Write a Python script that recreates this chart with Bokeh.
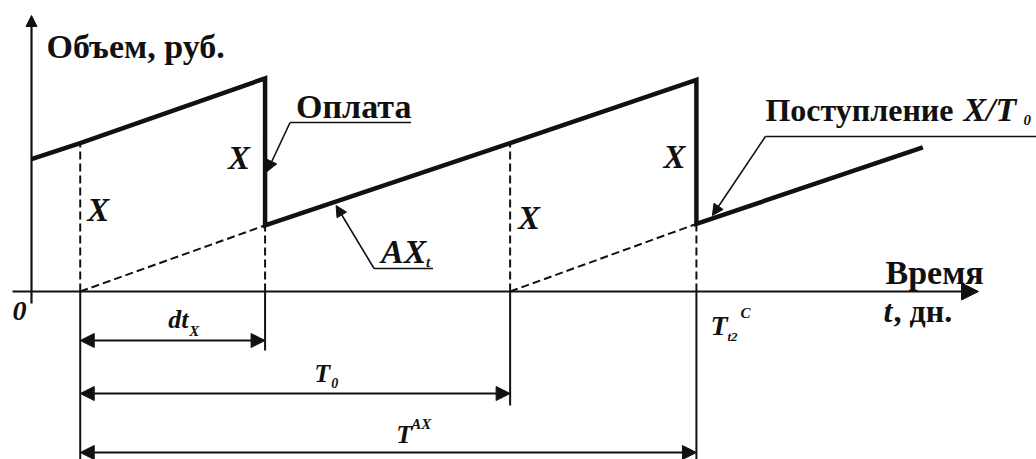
from bokeh.plotting import figure
from bokeh.models import Range1d, Arrow, NormalHead, Label
from bokeh.embed import file_html
from bokeh.resources import INLINE

# ---------------- data (days, rubles in abstract units) ----------------
t_start = 3.4     # start of first inflow cycle
t_pay1 = 16.3     # first payment (start + dt_X)
t_T0 = 33.4       # end of period T0
t_pay2 = 46.4     # second payment (start + T^AX)
t_end = 62.2

# solid saw-tooth: balance of accounts payable AX_t
saw_t = [0.0, 3.4, 16.3, 16.3, 33.4, 46.4, 46.4, 62.2]
saw_v = [90, 101, 145, 45, 101, 144, 46, 98]

# dashed inflow lines X/T0
inflow1_t = [3.4, 16.3]
inflow1_v = [0, 45]
inflow2_t = [33.4, 46.4]
inflow2_v = [0, 46]

# dashed vertical guides
guide_t = [3.4, 16.3, 33.4, 46.4]
guide_top = [101, 45, 101, 46]

# dimension intervals
dim_names = ["dt", "T0", "TAX"]
dim_from = [3.4, 3.4, 3.4]
dim_to = [16.3, 33.4, 46.4]

# ---------------- layout ----------------
W, H = 1036, 459
SX = 14.33   # px per day
SY = 1.47    # px per unit
OX, OY = 31, 291   # origin position inside the canvas (px)

def off(t, v, dx=0.0, dy=0.0):
    """data anchor + screen offset (dx right, dy down) in px"""
    return t + dx / SX, v - dy / SY

p = figure(width=W, height=H, output_backend="svg", toolbar_location=None,
           x_range=Range1d(-OX / SX, (W - OX) / SX),
           y_range=Range1d(-(H - OY) / SY, OY / SY),
           min_border=0, outline_line_color=None, background_fill_color="white",
           border_fill_color="white")
p.xaxis.visible = False
p.yaxis.visible = False
p.grid.visible = False

INK = "#111111"

# axes with arrows
x_ax0 = off(0, 0, -19)[0]
x_ax1 = off(0, 0, 947)[0]
y_ax0 = off(0, 0, 0, 12)[1]
y_ax1 = off(0, 0, 0, -276)[1]
p.add_layout(Arrow(x_start=x_ax0, y_start=0, x_end=x_ax1, y_end=0, line_width=2.2,
                   line_color=INK,
                   end=NormalHead(size=17, fill_color=INK, line_color=INK, line_width=1)))
p.add_layout(Arrow(x_start=0, y_start=y_ax0, x_end=0, y_end=y_ax1, line_width=2.2,
                   line_color=INK,
                   end=NormalHead(size=11, fill_color=INK, line_color=INK, line_width=1)))

# dashed guides and inflow lines
for t, top in zip(guide_t, guide_top):
    p.line([t, t], [0, top], line_color=INK, line_width=2, line_dash="8 4")
p.line(inflow1_t, inflow1_v, line_color=INK, line_width=2, line_dash="8 4")
p.line(inflow2_t, inflow2_v, line_color=INK, line_width=2, line_dash="8 4")

# saw-tooth
p.line(saw_t, saw_v, line_color=INK, line_width=4.5, line_join="miter")

# dimension lines
dim_level = [off(0, 0, 0, 49)[1], off(0, 0, 0, 102)[1], off(0, 0, 0, 161)[1]]
bottom = -(H - OY) / SY
ext_bottom = {t_start: bottom, t_pay1: off(0, 0, 0, 59)[1],
              t_T0: off(0, 0, 0, 114)[1], t_pay2: bottom}
for t, b in ext_bottom.items():
    p.line([t, t], [0, b], line_color=INK, line_width=2)
for a, b, lv in zip(dim_from, dim_to, dim_level):
    p.add_layout(Arrow(x_start=a, y_start=lv, x_end=b, y_end=lv, line_width=2,
                       line_color=INK,
                       start=NormalHead(size=14, fill_color=INK, line_color=INK, line_width=1),
                       end=NormalHead(size=14, fill_color=INK, line_color=INK, line_width=1)))

# leaders
def leader(ux0, ux1, uy, tip):
    p.line([ux0, ux1], [uy, uy], line_color=INK, line_width=1.6)
    p.add_layout(Arrow(x_start=ux0, y_start=uy, x_end=tip[0], y_end=tip[1], line_width=1.6,
                       line_color=INK,
                       end=NormalHead(size=11, fill_color=INK, line_color=INK, line_width=1)))

# "Оплата" leader to the payment drop
o_u0 = off(t_pay1, 0, 25, -169)
o_u1 = off(t_pay1, 0, 146, -169)
leader(o_u0[0], o_u1[0], o_u0[1], off(t_pay1, 0, 2, -120))
# "AX_t" leader to the saw line
a_u0 = off(t_pay1, 0, 109, -23)
a_u1 = off(t_pay1, 0, 168, -23)
leader(a_u0[0], a_u1[0], a_u0[1], off(t_pay1, 0, 71, -86))
# "Поступление" leader
s_u0 = off(t_pay2, 0, 69, -155)
s_u1 = off(t_pay2, 0, 340, -155)
leader(s_u0[0], s_u1[0], s_u0[1], off(t_pay2, 0, 16, -76))

SERIF = "Liberation Serif"

def lab(xy, text, size, style="bold"):
    # compensate the renderer's baseline placement (~1/3 of the font size)
    y = xy[1] + 0.33 * size / SY
    p.add_layout(Label(x=xy[0], y=y, text=text, text_font=SERIF,
                       text_font_size=f"{size}px", text_font_style=style,
                       text_color=INK, text_baseline="alphabetic", text_align="left"))

BI = "bold italic"
lab(off(0, 0, 15, -234), "Объем, руб.", 34)
lab(off(t_pay1, 0, 31, -174), "Оплата", 34)
lab(off(t_pay2, 0, 69, -171), "Поступление", 32)
lab(off(t_pay2, 0, 267, -171), "X/T", 34, BI)
lab(off(t_pay2, 0, 327, -167), "0", 15, BI)
lab(off(t_pay1, 0, 116, -29), "AX", 34, BI)
lab(off(t_pay1, 0, 161, -25), "t", 15, BI)
# X labels
lab(off(t_start, 0, 7, -71), "X", 33, BI)
lab(off(t_pay1, 0, -37, -123), "X", 33, BI)
lab(off(t_T0, 0, 8, -63), "X", 33, BI)
lab(off(t_pay2, 0, -33, -124), "X", 33, BI)
# origin
lab(off(0, 0, -19, 29), "0", 28, BI)
# dimension labels
lab(off(t_start, 0, 88, 37), "dt", 26, BI)
lab(off(t_start, 0, 109, 44), "X", 15, BI)
lab(off(t_start, 0, 234, 91), "T", 26, BI)
lab(off(t_start, 0, 251, 96), "0", 14, BI)
lab(off(t_start, 0, 316, 152), "T", 26, BI)
lab(off(t_start, 0, 331, 137), "AX", 15, BI)
# T_t2^C
lab(off(t_pay2, 0, 14, 43), "T", 28, BI)
lab(off(t_pay2, 0, 31, 49), "t2", 13, BI)
lab(off(t_pay2, 0, 44, 26), "C", 15, BI)
# x axis title
lab(off(0, 0, 854, -8), "Время", 34)
lab(off(0, 0, 852, 30), "t", 32, BI)
lab(off(0, 0, 862, 30), ", дн.", 32)

open("out.html", "w").write(file_html(p, INLINE))
